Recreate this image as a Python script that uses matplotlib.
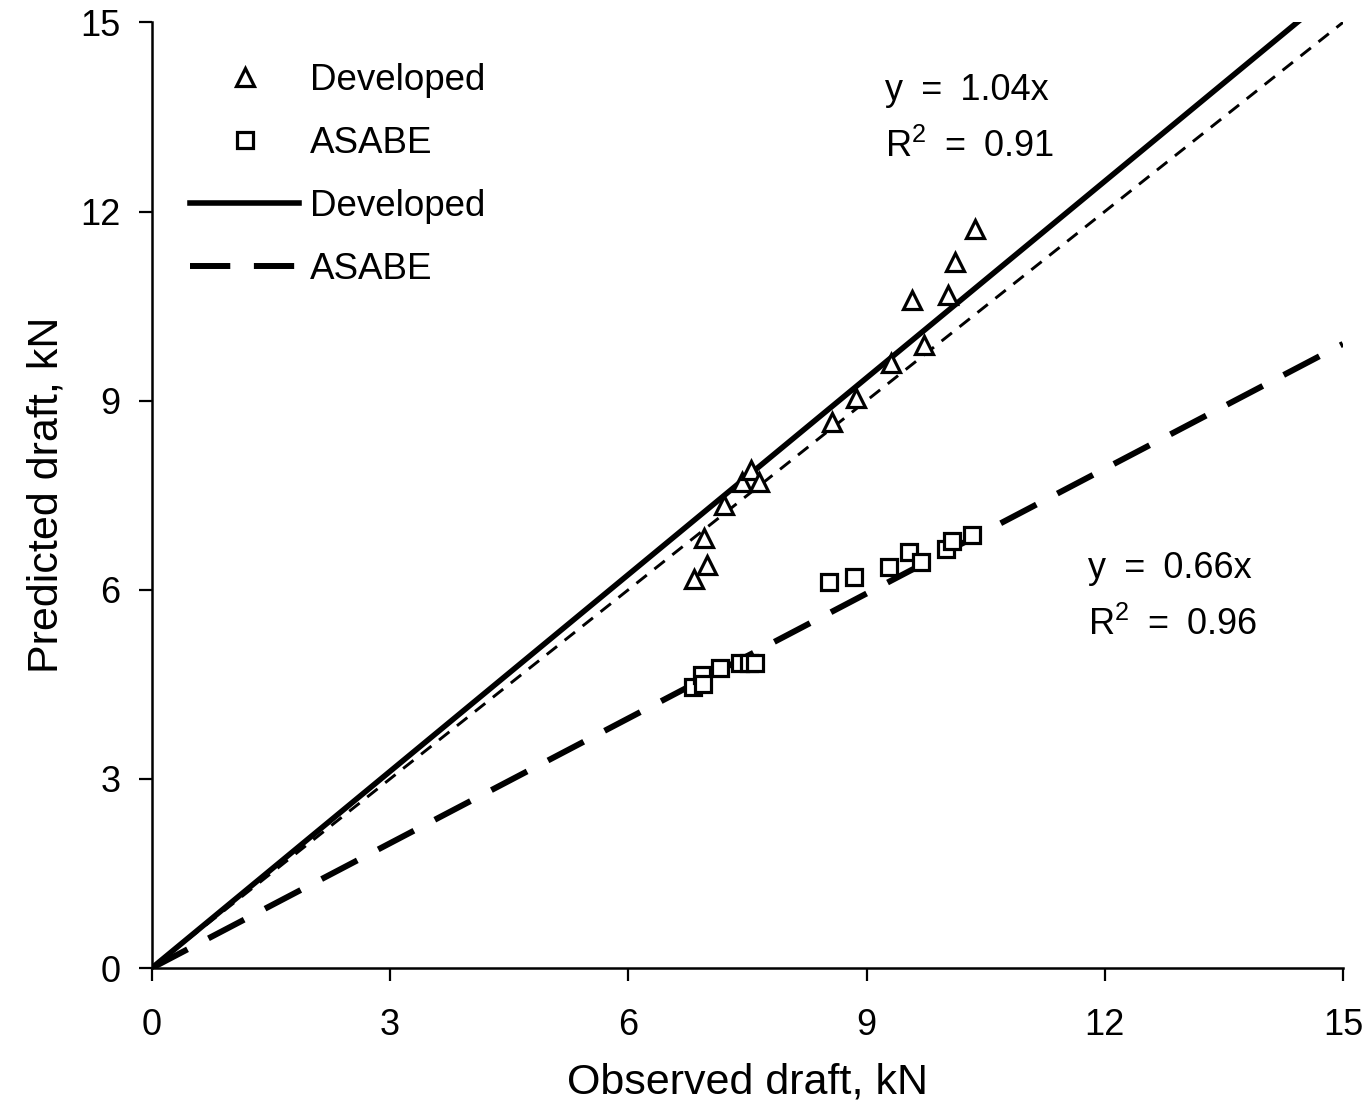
import numpy as np
import matplotlib
matplotlib.use('Agg')
import matplotlib.pyplot as plt

plt.rcParams['font.family'] = ['Liberation Sans', 'DejaVu Sans']
plt.rcParams['mathtext.fontset'] = 'custom'
plt.rcParams['mathtext.rm'] = 'Liberation Sans'
plt.rcParams['mathtext.it'] = 'Liberation Sans:italic'
plt.rcParams['lines.scale_dashes'] = False

# observed vs predicted draft, kN
dev_obs = [6.83, 6.99, 6.95, 7.20, 7.43, 7.54, 7.64, 8.56, 8.87, 9.31, 9.72, 9.57, 10.03, 10.11, 10.37]
dev_pred = [6.17, 6.39, 6.82, 7.35, 7.71, 7.90, 7.71, 8.66, 9.04, 9.59, 9.88, 10.59, 10.68, 11.20, 11.73]
asabe_obs = [6.81, 6.93, 6.94, 7.16, 7.41, 7.52, 7.60, 8.53, 8.84, 9.28, 9.53, 9.69, 10.00, 10.08, 10.33]
asabe_pred = [4.46, 4.65, 4.51, 4.76, 4.84, 4.84, 4.84, 6.12, 6.21, 6.36, 6.60, 6.44, 6.65, 6.78, 6.87]
dev_slope = 1.04
asabe_slope = 0.66
dev_r2 = 0.91
asabe_r2 = 0.96

fig = plt.figure(figsize=(13.68, 11.2), dpi=100)
ax = fig.add_axes([0.111, 0.1357, 0.8707, 0.8443])

xx = np.array([0, 15])
ax.plot(dev_obs, dev_pred, ls='none', marker='^', ms=13.5, mfc='white', mec='black',
        mew=2.3, label='Developed', zorder=4)
ax.plot(asabe_obs, asabe_pred, ls='none', marker='s', ms=11, mfc='white', mec='black',
        mew=2.3, label='ASABE', zorder=4)
ax.plot(xx, dev_slope * xx, color='black', lw=4.0, label='Developed', zorder=3)
ax.plot(xx, asabe_slope * xx, color='black', lw=4.3, dashes=(29, 17), label='ASABE', zorder=3)
ax.plot(xx, xx, color='black', lw=2.1, dashes=(9.5, 7), zorder=2)

ax.set_xlim(0, 15)
ax.set_ylim(0, 15)
ax.set_xticks([0, 3, 6, 9, 12, 15])
ax.set_yticks([0, 3, 6, 9, 12, 15])
ax.tick_params(direction='out', length=9.5, width=1.6, labelsize=26)
ax.tick_params(axis='x', pad=19)
ax.tick_params(axis='y', pad=13)
for s in ['top', 'right']:
    ax.spines[s].set_visible(False)
for s in ['left', 'bottom']:
    ax.spines[s].set_linewidth(1.8)

ax.set_xlabel('Observed draft, kN', fontsize=31, labelpad=14)
ax.set_ylabel('Predicted draft, kN', fontsize=31, labelpad=10)

sp = '\u2002'
ax.text(9.23, 13.92, 'y' + sp + '=' + sp + '%.2fx' % dev_slope, fontsize=26, va='center', ha='left')
ax.text(9.23, 13.02, 'R$^2$' + sp + '=' + sp + '%.2f' % dev_r2, fontsize=26, va='center', ha='left')
ax.text(11.79, 6.34, 'y' + sp + '=' + sp + '%.2fx' % asabe_slope, fontsize=26, va='center', ha='left')
ax.text(11.79, 5.44, 'R$^2$' + sp + '=' + sp + '%.2f' % asabe_r2, fontsize=26, va='center', ha='left')

ax.legend(loc='upper left', bbox_to_anchor=(0.02, 0.9725), frameon=False, fontsize=26.5,
          handlelength=2.95, handletextpad=0.3, labelspacing=0.76, markerscale=1.0,
          borderaxespad=0)

fig.savefig('out.png', dpi=100)
